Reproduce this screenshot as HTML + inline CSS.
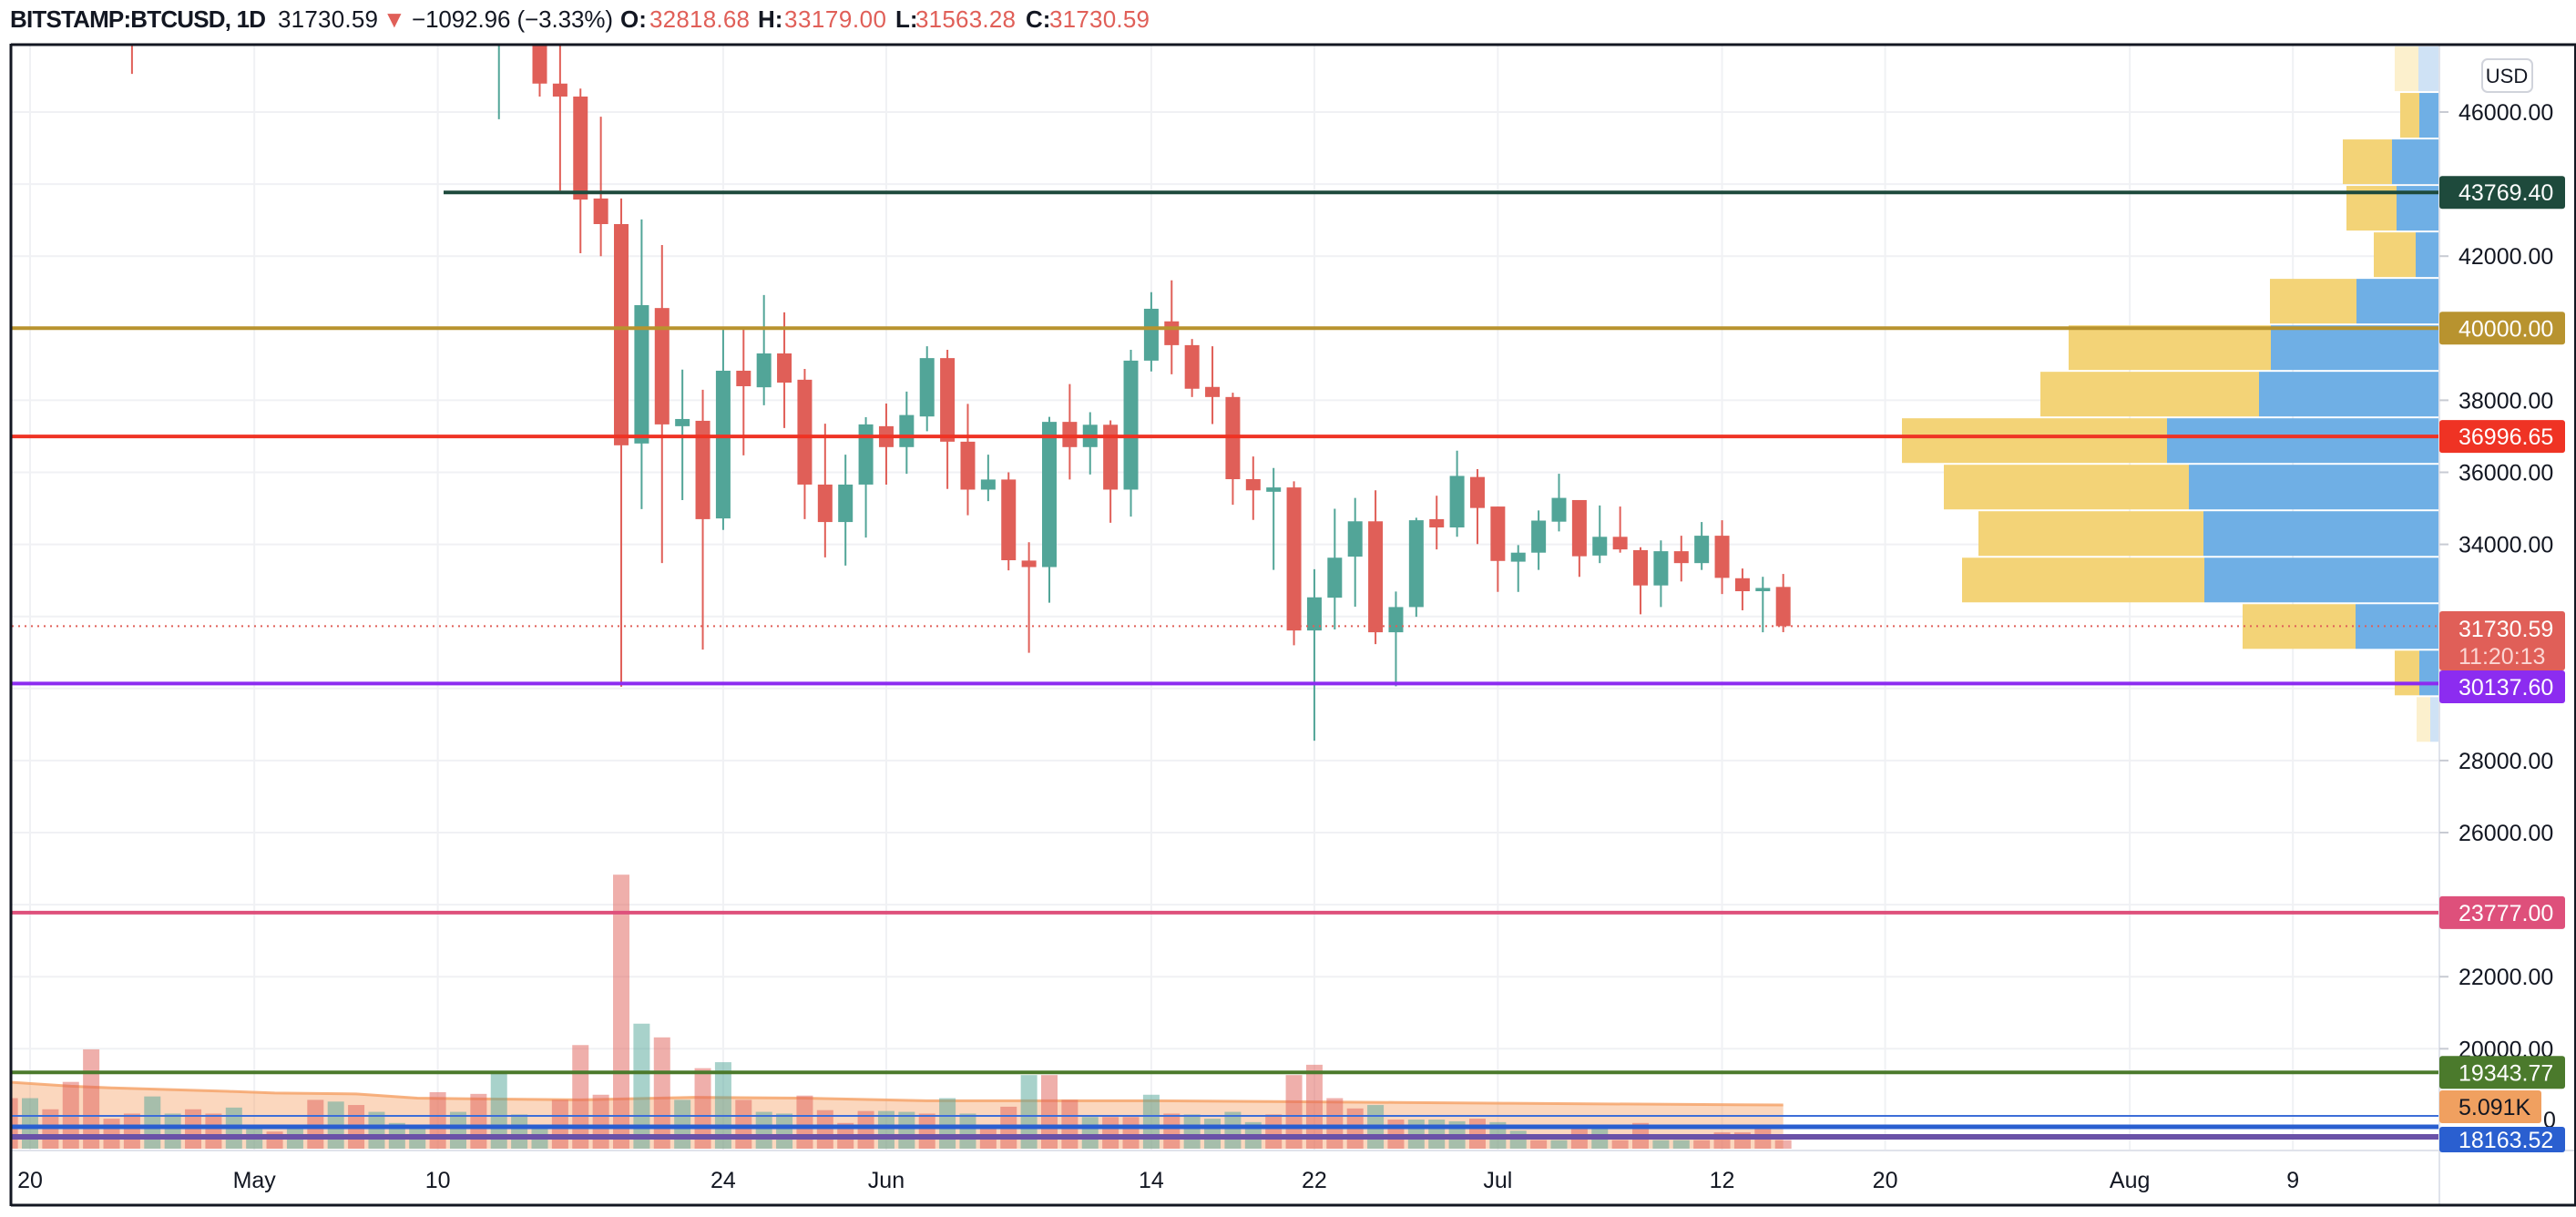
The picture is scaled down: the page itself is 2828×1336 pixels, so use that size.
<!DOCTYPE html>
<html><head><meta charset="utf-8"><style>
html,body{margin:0;padding:0;background:#fff;}
svg{display:block;font-family:"Liberation Sans",sans-serif;}
</style></head><body>
<svg id="chart" width="2828" height="1336" viewBox="0 0 2828 1336" xmlns="http://www.w3.org/2000/svg">
<g id="header" font-size="26">
<text x="11" y="30" font-weight="bold" fill="#131722" textLength="281">BITSTAMP:BTCUSD, 1D</text>
<text x="305" y="30" fill="#131722" textLength="110">31730.59</text>
<text x="420" y="30" fill="#e05f58">▼</text>
<text x="452" y="30" fill="#131722" textLength="221">−1092.96 (−3.33%)</text>
<text x="681" y="30" font-weight="bold" fill="#131722">O:</text>
<text x="713" y="30" fill="#e05f58" textLength="110">32818.68</text>
<text x="832" y="30" font-weight="bold" fill="#131722">H:</text>
<text x="861" y="30" fill="#e05f58" textLength="112">33179.00</text>
<text x="983" y="30" font-weight="bold" fill="#131722">L:</text>
<text x="1005" y="30" fill="#e05f58" textLength="110">31563.28</text>
<text x="1126" y="30" font-weight="bold" fill="#131722">C:</text>
<text x="1152" y="30" fill="#e05f58" textLength="110">31730.59</text>
</g>
<defs><clipPath id="plotClip"><rect x="13" y="50" width="2665" height="1213"/></clipPath></defs>
<g id="grid"></g>
<g id="volume" clip-path="url(#plotClip)"></g>
<g id="profile" clip-path="url(#plotClip)"></g>
<g id="candles" clip-path="url(#plotClip)"></g>
<g id="hlines"></g>
<g id="axes"></g>
</svg>
<script>
// ---- data ----
const tickPrices = [46000,44000,42000,40000,38000,36000,34000,32000,30000,28000,26000,24000,22000,20000];
const tickLabels = ["46000.00","","42000.00","","38000.00","36000.00","34000.00","","","28000.00","26000.00","","22000.00","20000.00"];
const dateTickDays = [0,11,20,34,42,55,63,72,83,91,103,111];
const dateTickLabels = ["20","May","10","24","Jun","14","22","Jul","12","20","Aug","9"];
// candles: day 0 = Apr 20
const opens = [55700,56500,53800,51700,51200,50100,49000,54000,55000,54800,53500,
57700,57800,56600,57200,53200,57500,56400,57400,58800,58200,55800,56700,49300,49700,
49900,46790,46430,43600,42890,36800,40560,37280,37430,34720,38820,38360,39300,38570,35660,34620,35660,
37280,36700,37550,39170,36850,35520,35800,33550,33370,37400,36700,37320,35520,39100,40190,39530,38370,38090,35810,35460,35580,31610,32520,33660,34640,31560,32260,34700,34470,35870,
35050,33520,33770,34630,35230,33690,34210,33840,32860,33810,33480,34240,33060,32700,32818.68];
const highs = [57000,56800,55400,52100,51200,50600,54400,55500,56400,55200,58000,
58500,57900,59500,57200,58000,58300,58600,59400,59300,59500,56800,58000,51300,51500,
50600,48000,46650,45870,43600,43020,42310,38850,38290,39960,39960,40920,40440,38870,37350,36490,37530,
37910,38240,39500,39400,37900,36490,36000,34060,37540,38450,37670,37440,39400,41000,41330,39700,39500,38210,36440,36120,35750,33310,34990,35290,35500,32690,34740,35350,36600,36090,
35050,33980,34940,35960,35230,35080,35050,33920,34110,34240,34620,34670,33330,33100,33179];
const lows = [53500,53600,50500,48600,48900,47060,48900,53200,53900,52400,53000,
57000,56100,56500,53000,52900,55200,55300,56900,56300,54000,54400,48600,45800,48800,
46430,43820,42080,42000,30050,34980,33480,35230,31080,34400,36470,37860,37230,34700,33640,33410,34190,
35660,35960,37140,35540,34810,35200,33280,30990,32380,35800,35940,34600,34770,38800,38720,38090,37340,35100,34680,33290,31200,28550,31640,32270,31230,30060,31990,33860,34210,34010,
32680,32680,33290,34360,33100,33480,33770,32060,32260,32970,33290,32620,32170,31560,31563.28];
const closes = [56500,53800,51700,51200,50100,49000,54000,55000,54800,53500,57700,
57800,56600,57200,53200,57500,56400,57400,58800,58200,55800,56700,49300,49700,49900,
46790,46430,43570,42890,36750,40640,37330,37480,34700,38820,38390,39300,38490,35660,34620,35660,37330,
36700,37590,39170,36850,35520,35800,33560,33370,37400,36700,37320,35520,39100,40540,39530,38320,38090,35810,35500,35580,31610,32530,33630,34640,31560,32260,34670,34470,35900,35010,
33540,33770,34660,35290,33670,34210,33860,32860,33810,33480,34240,33070,32700,32790,31730.59];
// volume (thousands), day -1 = Apr 19
const volStartDay = -1;
const volumes = [5.9,5.9,4.6,7.8,11.6,3.5,4.1,6.1,4.1,4.6,4.1,4.8,
2.7,2.0,2.7,5.7,5.5,5.1,4.3,3.0,2.7,
6.6,4.3,6.4,9.1,4.0,2.7,5.7,12.1,6.3,32.0,14.6,13.0,5.7,9.4,10.1,5.7,4.3,4.1,6.2,4.5,3.0,4.4,
4.4,4.3,4.1,5.9,4.1,2.7,4.9,8.6,8.6,5.7,3.7,3.7,3.7,6.3,4.1,4.0,3.5,4.3,3.1,4.0,8.6,9.8,5.9,4.7,5.1,3.4,3.4,3.4,3.2,3.5,
3.1,2.1,1.0,1.0,2.3,2.3,1.0,3.0,1.0,1.0,1.0,1.9,1.9,2.3,1.0];
const volDirs = "duddddduudduudududuuududuuuddddudududuudddduuduudduddudduduuuudddddudu uuduudududduuddd".replace(/ /g,"");
const maDays = [-1.2,2,4,9.7,12,16,19,27,32.6,38,44,55,67,72.6,86];
const maVals = [7.8,7.3,7.1,6.7,6.5,6.4,5.9,5.7,6.0,5.9,5.6,5.6,5.4,5.3,5.1];
// volume profile rows (top price of first row, row height in price)
const profTop = 47845, profStep = 1290;
const profTotal = [49,43,106,102,72,186,407,438,590,544,506,524,216,49,25];
const profBuy = [23,22,52,47,26,91,185,198,299,275,259,258,92,22,10];
// horizontal levels
const levelPrices = [43769.40,40000,36996.65,30137.60,23777,19343.77];
const levelLabels = ["43769.40","40000.00","36996.65","30137.60","23777.00","19343.77"];
const levelColors = ["#1e4a3c","#b8932f","#ef3324","#8c2cf0","#de507b","#4b7a2c"];
const levelStartX = [487,13,13,13,13,13];

// ---- scales ----
const NS="http://www.w3.org/2000/svg";
const PL=13, PR=2678, PT=50, PB=1263;
function yP(p){return 123+(46000-p)/2000*79.1;}
function xD(d){return 33+d*22.38;}
function yV(v){return 1261-v*9.4;}
function mk(tag,attrs,parent){const e=document.createElementNS(NS,tag);for(const k in attrs)e.setAttribute(k,attrs[k]);parent.appendChild(e);return e;}
const G=id=>document.getElementById(id);
const UP="#52a598", DN="#e05f58";

// grid
const grid=G('grid');
tickPrices.forEach(p=>{const l=mk('line',{x1:PL,x2:PR,y1:yP(p),y2:yP(p),stroke:'#f0f1f4','stroke-width':2},grid);

});
dateTickDays.forEach(d=>{const l=mk('line',{x1:xD(d),x2:xD(d),y1:PT,y2:PB,stroke:'#f0f1f4','stroke-width':2},grid);

});

// volume MA area
const vol=G('volume');
let path='M'+xD(maDays[0])+','+yV(0);
maDays.forEach((d,i)=>{path+=' L'+xD(d)+','+yV(maVals[i]);});
path+=' L'+xD(maDays[maDays.length-1])+','+yV(0)+' Z';
const area=mk('path',{d:path,fill:'rgba(245,160,100,0.42)'},vol);


let lp='';maDays.forEach((d,i)=>{lp+=(i?' L':'M')+xD(d)+','+yV(maVals[i]);});
const maLine=mk('path',{d:lp,fill:'none',stroke:'rgba(245,160,100,0.8)','stroke-width':3},vol);


volumes.forEach((v,i)=>{const d=volStartDay+i;const up=volDirs[i]==='u';
const r=mk('rect',{x:xD(d)-9,y:yV(v),width:18,height:yV(0)-yV(v),fill:up?'rgba(82,165,152,0.5)':'rgba(224,95,88,0.5)'},vol);

});

// volume profile
const prof=G('profile');
profTotal.forEach((t,i)=>{const top=yP(profTop-i*profStep)+1, bot=yP(profTop-(i+1)*profStep)-1;
const faded=(i===0||i===profTotal.length-1);
const a=mk('rect',{x:PR-t,y:top,width:t-profBuy[i],height:bot-top,fill:faded?'#fcf0cd':'#f3d377'},prof);


const b=mk('rect',{x:PR-profBuy[i],y:top,width:profBuy[i],height:bot-top,fill:faded?'#cfe2f5':'#6fafe5'},prof);

});

// candles
const cg=G('candles');
opens.forEach((o,i)=>{const c=closes[i],up=c>=o,col=up?UP:DN,x=xD(i);
const w=mk('line',{x1:x,x2:x,y1:yP(highs[i]),y2:yP(lows[i]),stroke:col,'stroke-width':2},cg);


const t=yP(Math.max(o,c)),b=yP(Math.min(o,c));
const r=mk('rect',{x:x-8,y:t,width:16,height:Math.max(2,b-t),fill:col},cg);

});

// horizontal levels
const hl=G('hlines');
const cp=closes[closes.length-1];
const dl=mk('line',{x1:PL,x2:PR,y1:yP(cp),y2:yP(cp),stroke:DN,'stroke-width':2,'stroke-dasharray':'2 5'},hl);


levelPrices.forEach((p,i)=>{const l=mk('line',{x1:levelStartX[i],x2:PR,y1:yP(p),y2:yP(p),stroke:levelColors[i],'stroke-width':4},hl);

});
const extra=[[1225,'#3d6ed8',2],[1237,'#2a5fd0',5],[1248,'#6a52a8',6]];
extra.forEach(e=>{const l=mk('line',{x1:PL,x2:PR,y1:e[0],y2:e[0],stroke:e[1],'stroke-width':e[2]},hl);

});

// axes
const ax=G('axes');
mk('rect',{x:PR+1,y:PT,width:2828-PR-2,height:PB-PT,fill:'#fff'},ax);
mk('line',{x1:PR,x2:PR,y1:PT,y2:1322,stroke:'#e0e3eb','stroke-width':2},ax);
mk('line',{x1:PL,x2:2828,y1:PB,y2:PB,stroke:'#e0e3eb','stroke-width':2},ax);
mk('line',{x1:12,x2:2828,y1:49,y2:49,stroke:'#131722','stroke-width':3},ax);
mk('line',{x1:12,x2:12,y1:48,y2:1324,stroke:'#131722','stroke-width':3},ax);
mk('line',{x1:12,x2:2828,y1:1323,y2:1323,stroke:'#131722','stroke-width':3},ax);
mk('line',{x1:2827,x2:2827,y1:48,y2:1324,stroke:'#131722','stroke-width':2},ax);
tickPrices.forEach((p,i)=>{if(!tickLabels[i])return;
mk('line',{x1:PR,x2:PR+10,y1:yP(p),y2:yP(p),stroke:'#c8cbd3','stroke-width':2},ax);
const t=mk('text',{x:2699,y:yP(p)+9,'font-size':25,fill:'#131722'},ax);t.textContent=tickLabels[i];

});
dateTickDays.forEach((d,i)=>{const t=mk('text',{x:xD(d),y:1304,'font-size':25,fill:'#131722','text-anchor':'middle'},ax);t.textContent=dateTickLabels[i];

});
function label(cy,h,text,bg,fg,w){const r=mk('rect',{x:PR,y:cy-h/2,width:w||138,height:h,rx:3,fill:bg},ax);


const t=mk('text',{x:2699,y:cy+9,'font-size':25,fill:fg},ax);t.textContent=text;

}
levelPrices.forEach((p,i)=>{if(i===3)return;label(yP(p),36,levelLabels[i],levelColors[i],'#fff');});
// current price box
const cb=mk('rect',{x:PR,y:671,width:138,height:65,rx:3,fill:DN},ax);


const ct=mk('text',{x:2699,y:699,'font-size':25,fill:'#fff'},ax);ct.textContent=cp.toFixed(2);


const tt=mk('text',{x:2699,y:729,'font-size':25,fill:'#fbd6d3'},ax);tt.textContent='11:20:13';


label(754,36,levelLabels[3],levelColors[3],'#fff');
const z=mk('text',{x:2792,y:1238,'font-size':25,fill:'#131722'},ax);z.textContent='0';


label(1215,36,'5.091K','#f0a060','#131722',112);
label(1251,28,'18163.52','#2a5fd0','#fff');
const ub=mk('rect',{x:2725,y:65,width:55,height:36,rx:6,fill:'#fff',stroke:'#d0d3db','stroke-width':2},ax);


const ut=mk('text',{x:2752,y:91,'font-size':22,fill:'#131722','text-anchor':'middle'},ax);ut.textContent='USD';


</script>
</body></html>
